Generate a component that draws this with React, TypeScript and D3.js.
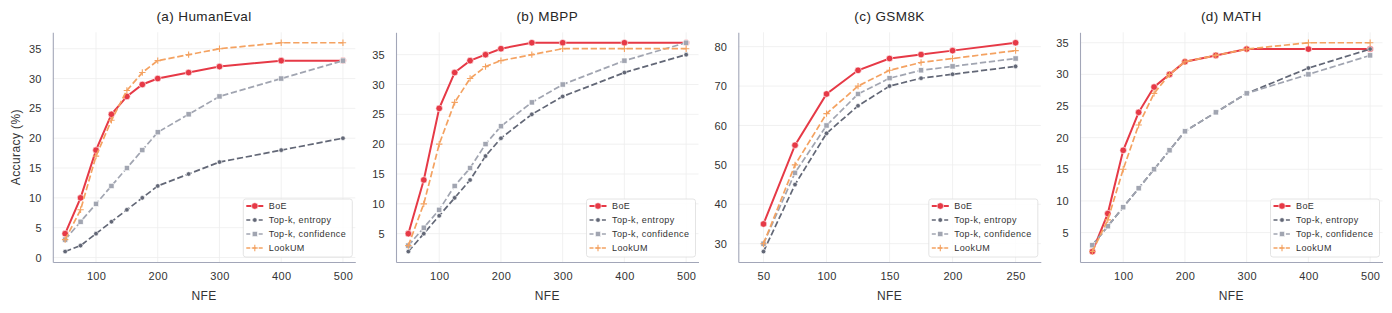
import React, { useEffect, useRef } from 'react';
import * as d3 from 'd3';

// NFE steps
const NFE_LONG = [50, 75, 100, 125, 150, 175, 200, 250, 300, 400, 500];
const NFE_GSM = [50, 75, 100, 125, 150, 175, 200, 250];

const SERIES = ['BoE', 'Top-k, entropy', 'Top-k, confidence', 'LookUM'];

// (a) HumanEval
const humanevalBoE = [4, 10, 18, 24, 27, 29, 30, 31, 32, 33, 33];
const humanevalEntropy = [1, 2, 4, 6, 8, 10, 12, 14, 16, 18, 20];
const humanevalConfidence = [3, 6, 9, 12, 15, 18, 21, 24, 27, 30, 33];
const humanevalLookUM = [3, 8, 17, 23, 28, 31, 33, 34, 35, 36, 36];

// (b) MBPP
const mbppBoE = [5, 14, 26, 32, 34, 35, 36, 37, 37, 37, 37];
const mbppEntropy = [2, 5, 8, 11, 14, 18, 21, 25, 28, 32, 35];
const mbppConfidence = [3, 6, 9, 13, 16, 20, 23, 27, 30, 34, 37];
const mbppLookUM = [3, 10, 20, 27, 31, 33, 34, 35, 36, 36, 36];

// (c) GSM8K
const gsmBoE = [35, 55, 68, 74, 77, 78, 79, 81];
const gsmEntropy = [28, 45, 58, 65, 70, 72, 73, 75];
const gsmConfidence = [30, 48, 60, 68, 72, 74, 75, 77];
const gsmLookUM = [30, 50, 63, 70, 74, 76, 77, 79];

// (d) MATH
const mathBoE = [2, 8, 18, 24, 28, 30, 32, 33, 34, 34, 34];
const mathEntropy = [3, 6, 9, 12, 15, 18, 21, 24, 27, 31, 34];
const mathConfidence = [3, 6, 9, 12, 15, 18, 21, 24, 27, 30, 33];
const mathLookUM = [2, 7, 15, 22, 27, 30, 32, 33, 34, 35, 35];

// tick labels
const X_TICKS_LONG = [100, 200, 300, 400, 500];
const X_TICKS_GSM = [50, 100, 150, 200, 250];
const Y_TICKS_HUMANEVAL = [0, 5, 10, 15, 20, 25, 30, 35];
const Y_TICKS_MBPP = [5, 10, 15, 20, 25, 30, 35];
const Y_TICKS_GSM = [30, 40, 50, 60, 70, 80];
const Y_TICKS_MATH = [5, 10, 15, 20, 25, 30, 35];

const panels = [
  { title: '(a) HumanEval', x: NFE_LONG, xTicks: X_TICKS_LONG, yTicks: Y_TICKS_HUMANEVAL, xDomain: [30, 520],
    values: [humanevalBoE, humanevalEntropy, humanevalConfidence, humanevalLookUM] },
  { title: '(b) MBPP', x: NFE_LONG, xTicks: X_TICKS_LONG, yTicks: Y_TICKS_MBPP, xDomain: [30, 520],
    values: [mbppBoE, mbppEntropy, mbppConfidence, mbppLookUM] },
  { title: '(c) GSM8K', x: NFE_GSM, xTicks: X_TICKS_GSM, yTicks: Y_TICKS_GSM, xDomain: [30, 270],
    values: [gsmBoE, gsmEntropy, gsmConfidence, gsmLookUM] },
  { title: '(d) MATH', x: NFE_LONG, xTicks: X_TICKS_LONG, yTicks: Y_TICKS_MATH, xDomain: [30, 520],
    values: [mathBoE, mathEntropy, mathConfidence, mathLookUM] },
];

const styles = [
  { color: '#e63946', width: 2, dash: null, marker: 'circle', size: 3.3 },
  { color: '#626776', width: 1.7, dash: '6.3,2.7', marker: 'dot', size: 2.3 },
  { color: '#a1a5b1', width: 1.7, dash: '6.3,2.7', marker: 'square', size: 2.6 },
  { color: '#f4a261', width: 1.7, dash: '6.3,2.7', marker: 'plus', size: 3.2 },
];

const FONT = '"Liberation Sans", Arial, Helvetica, sans-serif';

function drawMarker(g: any, kind: string, cx: number, cy: number, color: string, s: number) {
  if (kind === 'circle' || kind === 'dot') {
    g.append('circle').attr('cx', cx).attr('cy', cy).attr('r', s)
      .attr('fill', color).attr('stroke', '#fff').attr('stroke-width', 0.6);
  } else if (kind === 'square') {
    g.append('rect').attr('x', cx - s).attr('y', cy - s).attr('width', 2 * s).attr('height', 2 * s)
      .attr('fill', color).attr('stroke', '#fff').attr('stroke-width', 0.6);
  } else {
    g.append('path').attr('d', `M${cx - s},${cy}H${cx + s}M${cx},${cy - s}V${cy + s}`)
      .attr('stroke', color).attr('stroke-width', 1.1).attr('fill', 'none');
  }
}

export default function App() {
  const svgRef = useRef<SVGSVGElement>(null);

  useEffect(() => {
    if (!svgRef.current) return;
    const svg = d3.select(svgRef.current);
    svg.selectAll('*').remove();

    const top = 32.3;
    const bottom = 262;
    const pw = 302.5;
    const lefts = [52.8, 396, 738.3, 1080];

    panels.forEach((p, pi) => {
      const left = lefts[pi];
      const all = p.values.flat();
      const lo = d3.min(all) as number;
      const hi = d3.max(all) as number;
      const pad = (hi - lo) * 0.05;

      const x = d3.scaleLinear().domain(p.xDomain).range([left, left + pw]);
      const y = d3.scaleLinear().domain([lo - pad, hi + pad]).range([bottom, top]);

      const g = svg.append('g');

      // grid
      g.append('g').selectAll('line').data(p.yTicks).join('line')
        .attr('x1', left).attr('x2', left + pw)
        .attr('y1', d => y(d)).attr('y2', d => y(d))
        .attr('stroke', '#eeeeee').attr('stroke-width', 0.8);
      g.append('g').selectAll('line').data(p.xTicks).join('line')
        .attr('y1', top).attr('y2', bottom)
        .attr('x1', d => x(d)).attr('x2', d => x(d))
        .attr('stroke', '#eeeeee').attr('stroke-width', 0.8);

      // axes
      const xAxis = g.append('g').attr('transform', `translate(0,${bottom})`)
        .call(d3.axisBottom(x).tickValues(p.xTicks).tickSize(0).tickPadding(10.5));
      const yAxis = g.append('g').attr('transform', `translate(${left},0)`)
        .call(d3.axisLeft(y).tickValues(p.yTicks).tickSize(0).tickPadding(11));
      [xAxis, yAxis].forEach(a => {
        a.select('.domain').attr('stroke', '#a2a6b8').attr('stroke-width', 1.1);
        a.selectAll('text').style('font-family', FONT).style('font-size', '11px')
          .style('letter-spacing', '0.3px').attr('fill', '#333');
      });

      // lines
      p.values.forEach((vals, si) => {
        const st = styles[si];
        const pts = p.x.map((xv, i) => [xv, vals[i]] as [number, number]);
        const line = d3.line<[number, number]>().x(d => x(d[0])).y(d => y(d[1]));
        const sg = g.append('g');
        sg.append('path').attr('d', line(pts)).attr('fill', 'none')
          .attr('stroke', st.color).attr('stroke-width', st.width)
          .attr('stroke-dasharray', st.dash).attr('stroke-linecap', 'butt');
        pts.forEach(d => drawMarker(sg, st.marker, x(d[0]), y(d[1]), st.color, st.size));
      });

      // title and labels
      g.append('text').attr('x', left + pw / 2).attr('y', 21).attr('text-anchor', 'middle')
        .style('font-family', FONT).style('font-size', '13.5px').style('letter-spacing', '0.4px')
        .attr('fill', '#262626').text(p.title);
      g.append('text').attr('x', left + pw / 2).attr('y', 300).attr('text-anchor', 'middle')
        .style('font-family', FONT).style('font-size', '12px').style('letter-spacing', '0.3px')
        .attr('fill', '#333').text('NFE');
      if (pi === 0) {
        g.append('text').attr('transform', `translate(19.5,${(top + bottom) / 2}) rotate(-90)`)
          .attr('text-anchor', 'middle')
          .style('font-family', FONT).style('font-size', '12px').style('letter-spacing', '0.4px')
          .attr('fill', '#333').text('Accuracy (%)');
      }

      // legend
      const lw = 109;
      const lh = 58;
      const lx = left + pw - lw - 3;
      const ly = bottom - lh - 5;
      const leg = g.append('g').attr('transform', `translate(${lx},${ly})`);
      leg.append('rect').attr('width', lw).attr('height', lh).attr('rx', 2.5)
        .attr('fill', 'rgba(255,255,255,0.85)').attr('stroke', '#dddddd').attr('stroke-width', 0.8);
      SERIES.forEach((name, si) => {
        const st = styles[si];
        const ry = 7 + si * 14;
        leg.append('line').attr('x1', 3).attr('x2', 20).attr('y1', ry).attr('y2', ry)
          .attr('stroke', st.color).attr('stroke-width', st.width)
          .attr('stroke-dasharray', st.dash ? '4,2.2' : null);
        drawMarker(leg, st.marker, 11.5, ry, st.color, st.size);
        leg.append('text').attr('x', 25.5).attr('y', ry).attr('dy', '0.35em')
          .style('font-family', FONT).style('font-size', '9px').style('letter-spacing', '0.4px')
          .attr('fill', '#333').text(name);
      });
    });
  }, []);

  return (
    <svg ref={svgRef} width={1392} height={313}
      style={{ position: 'absolute', left: 0, top: 0, background: '#fff' }} />
  );
}
